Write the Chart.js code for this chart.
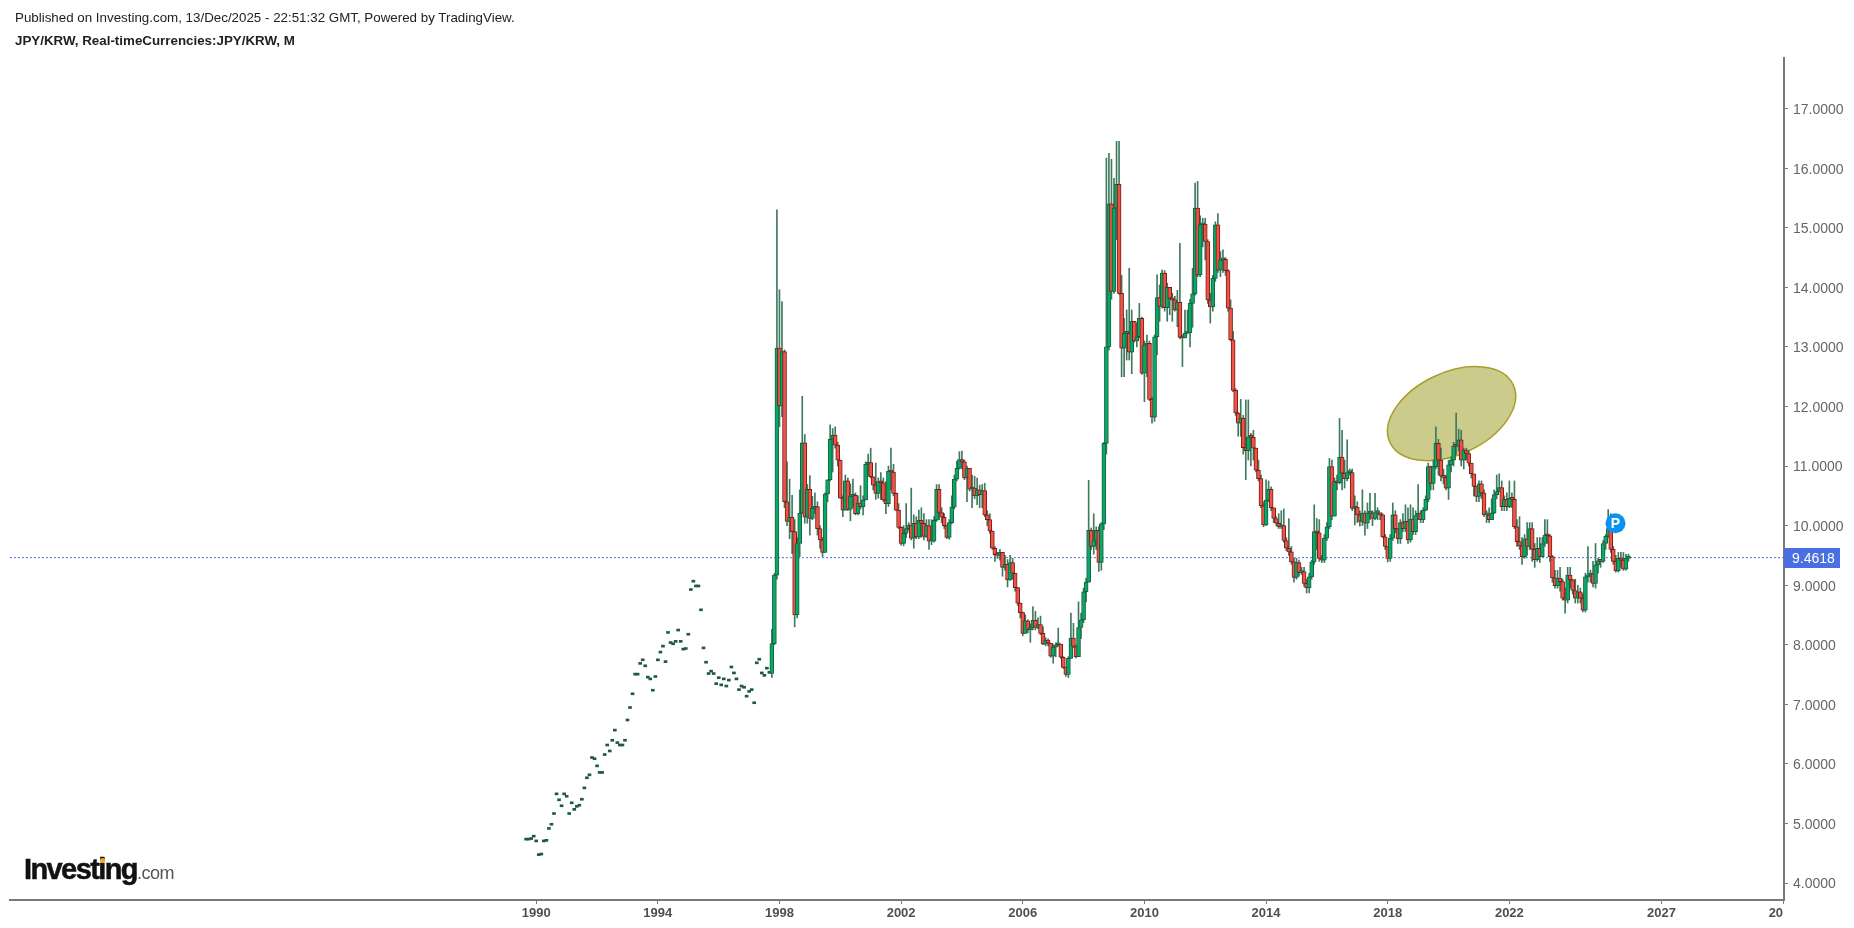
<!DOCTYPE html>
<html>
<head>
<meta charset="utf-8">
<title>JPY/KRW</title>
<script src="https://cdn.jsdelivr.net/npm/chart.js@4"></script>
<style>
  html, body { margin: 0; padding: 0; background: #fff; overflow: hidden; }
  #wrap { position: relative; width: 1854px; height: 928px; font-family: "Liberation Sans", Arial, sans-serif; }
  #c { position: absolute; left: 0; top: 0; }
  .head { position: absolute; left: 15px; color: #222; white-space: nowrap; }
  #line1 { top: 10px; font-size: 13.35px; }
  #line2 { top: 33px; left: 15px; font-size: 13.35px; font-weight: bold; }
  #logo { position: absolute; left: 24px; top: 853px; white-space: nowrap; color: #111; }
  #logo b { font-size: 29px; letter-spacing: -1.6px; -webkit-text-stroke: 0.5px #111; }
  #logo span { font-size: 18px; color: #555; letter-spacing: -0.5px; }
  #logo i { position: absolute; left: 76px; top: 5px; width: 5px; height: 5px; background: #f5a623; border-radius: 3px; }
</style>
</head>
<body>
<div id="wrap">
  <canvas id="c" width="1854" height="928"></canvas>
  <div class="head" id="line1">Published on Investing.com, 13/Dec/2025 - 22:51:32 GMT, Powered by TradingView.</div>
  <div class="head" id="line2">JPY/KRW, Real-timeCurrencies:JPY/KRW, M</div>
  <div id="logo"><b>Investing</b><span>.com</span><i></i></div>
</div>
<script>
// early months: only a flat quote per bar, Sep 1989 onward
const firstQuoteYear = 1989.67;
const earlyQuotes = [
  4.72,4.72,4.73,4.77,4.69,4.46,4.47,4.69,4.70,4.90,4.97,5.15,5.48,5.38,5.28,5.48,
  5.44,5.15,5.33,5.22,5.27,5.29,5.39,5.58,5.75,5.80,6.09,6.07,5.95,5.84,5.84,6.14,
  6.30,6.20,6.38,6.55,6.34,6.30,6.30,6.38,6.72,6.93,7.16,7.49,7.49,7.67,7.73,7.63,
  7.44,7.41,7.22,7.45,7.73,7.86,7.96,7.70,8.19,8.02,8.00,8.04,8.23,8.04,7.91,7.92,
  8.16,8.91,9.05,8.97,8.97,8.57,7.93,7.69,7.50,7.54,7.50,7.33,7.43,7.31,7.41,7.29,
  7.39,7.61,7.51,7.41,7.23,7.29,7.27,7.12,7.20,7.23,7.01,7.68,7.74,7.51,7.47,7.59,7.52
];

// monthly candles from autumn 1997; each one opens on the previous close
const firstCandleYear = 1997.75;
const firstOpen = 7.52;
const closes = [
  8.02,9.17,12.98,12.01,12.92,10.40,10.07,10.14,9.90,8.50,
  9.70,10.21,11.39,10.14,10.61,10.12,10.29,10.32,9.95,9.76,
  9.55,10.53,10.77,11.45,11.52,11.35,11.10,10.46,10.26,10.75,
  10.27,10.49,10.51,10.20,10.38,10.32,10.43,11.03,11.06,10.82,
  10.68,10.54,10.74,10.72,10.43,10.37,10.91,10.90,10.54,10.26,
  9.97,9.70,9.87,9.95,10.01,9.79,10.04,9.81,10.09,10.04,
  9.82,10.00,9.74,9.74,10.09,10.61,10.22,10.14,10.00,9.80,
  10.05,10.31,10.78,10.96,11.11,11.07,10.80,10.96,10.61,10.63,
  10.50,10.60,10.52,10.59,10.18,10.10,9.91,9.62,9.51,9.50,
  9.55,9.30,9.35,9.09,9.38,9.20,8.96,8.70,8.54,8.19,
  8.40,8.25,8.29,8.41,8.29,8.34,8.19,8.01,8.08,8.03,
  7.81,7.96,8.00,8.01,7.79,7.62,7.50,7.77,8.11,7.97,
  7.80,8.29,8.42,8.89,9.05,9.92,9.65,9.75,9.92,9.38,
  10.03,11.38,13.00,15.40,13.93,15.33,15.73,13.90,12.98,13.23,
  13.23,12.91,13.43,13.10,13.17,13.48,12.56,13.03,13.06,12.12,
  11.82,13.17,13.83,13.68,14.24,13.66,14.00,13.82,13.79,13.62,
  13.75,13.16,13.15,13.23,13.24,13.73,13.89,15.33,14.21,15.05,
  15.06,14.77,13.79,13.67,14.15,15.05,14.29,14.46,14.47,14.28,
  13.65,13.12,12.27,11.89,11.72,11.80,11.31,11.26,11.49,11.48,
  11.30,10.93,10.79,10.33,10.01,10.43,10.61,10.30,10.12,10.04,
  9.98,10.00,9.75,9.62,9.56,9.39,9.13,9.38,9.21,9.23,
  9.03,8.96,9.14,9.39,9.90,9.88,9.45,9.42,9.79,9.98,
  10.99,10.16,10.74,10.72,11.15,10.88,10.79,10.89,10.89,10.29,
  10.31,10.18,10.07,10.21,10.04,10.21,10.21,10.12,10.22,10.22,
  10.18,9.81,9.65,9.45,9.79,10.18,9.95,9.78,10.05,9.95,
  10.07,9.76,10.11,9.90,10.17,10.21,10.10,10.26,10.44,10.99,
  10.71,10.99,11.38,11.10,10.83,10.81,10.63,11.02,11.10,11.34,
  11.33,11.44,11.10,11.27,11.21,11.05,10.87,10.66,10.49,10.70,
  10.55,10.18,10.18,10.10,10.21,10.52,10.57,10.64,10.32,10.44,
  10.32,10.46,10.44,9.98,9.73,9.66,9.48,9.78,9.65,9.95,
  9.60,9.43,9.62,9.48,9.70,9.84,9.83,9.48,9.12,8.99,
  9.12,9.06,8.78,8.75,9.17,9.09,8.91,8.78,8.89,8.78,
  8.58,9.14,9.17,9.19,9.03,9.34,9.41,9.40,9.70,9.82,
  9.95,9.60,9.40,9.24,9.45,9.42,9.27,9.45,9.4618
];
const highs = [
  8.26,9.20,15.30,13.96,13.76,12.95,11.07,10.78,10.51,10.10,
  9.80,10.60,12.17,11.53,10.69,10.84,10.49,10.55,10.40,10.00,
  9.80,10.55,10.77,11.69,11.63,11.66,11.40,11.10,10.50,10.85,
  10.80,10.70,10.78,10.55,10.50,10.67,10.50,11.07,11.20,11.30,
  10.82,11.05,10.80,10.89,10.80,10.74,11.00,11.30,11.03,10.55,
  10.37,9.98,10.00,10.37,10.05,10.63,10.18,10.15,10.26,10.30,
  10.20,10.10,10.10,10.10,10.15,10.69,10.69,10.30,10.20,10.00,
  10.10,10.50,10.85,11.08,11.24,11.25,11.10,11.00,10.96,10.85,
  10.83,10.80,10.68,10.69,10.71,10.25,10.20,9.91,9.65,9.55,
  9.60,9.55,9.50,9.43,9.50,9.45,9.20,8.96,8.70,8.55,
  8.50,8.42,8.35,8.64,8.56,8.45,8.48,8.30,8.12,8.10,
  8.02,8.00,8.03,8.28,8.00,7.80,7.62,7.80,8.53,8.36,
  8.00,8.72,8.53,8.95,9.12,10.76,9.96,10.20,9.98,9.98,
  10.05,11.40,16.17,16.25,16.15,15.83,16.45,16.45,14.20,13.48,
  13.62,14.32,13.62,13.15,13.40,13.73,13.50,13.10,13.20,13.10,
  12.15,13.20,14.21,14.04,14.29,14.28,14.07,14.00,13.90,13.85,
  13.95,14.74,13.20,13.62,13.62,13.80,14.32,15.75,15.78,15.20,
  15.16,15.16,14.80,13.90,14.20,15.10,15.24,14.60,14.63,14.50,
  14.30,13.79,13.26,12.30,11.90,12.12,11.85,12.11,12.11,11.55,
  11.60,11.30,11.10,10.85,10.40,10.77,10.75,10.65,10.30,10.15,
  10.20,10.25,10.28,9.80,10.12,9.65,9.45,9.45,9.42,9.30,
  9.30,9.10,9.20,9.42,10.35,10.12,10.10,9.50,9.85,10.05,
  11.13,11.10,10.80,10.85,11.80,11.60,11.10,11.44,10.95,10.95,
  10.50,10.40,10.25,10.60,10.25,10.38,10.54,10.25,10.54,10.30,
  10.20,10.20,9.85,9.65,9.85,10.38,10.25,9.95,10.10,10.20,
  10.35,10.30,10.35,10.30,10.25,10.69,10.25,10.30,10.50,11.05,
  11.00,11.10,11.66,11.45,11.30,10.95,10.85,11.10,11.15,11.40,
  11.89,11.62,11.60,11.30,11.30,11.25,10.90,10.75,10.60,10.75,
  10.75,10.60,10.25,10.30,10.45,10.60,10.85,10.87,10.75,10.50,
  10.55,10.75,10.55,10.75,10.10,10.15,9.80,9.85,10.05,10.05,
  10.05,9.70,9.80,9.80,9.80,10.10,10.10,9.85,9.50,9.25,
  9.25,9.30,9.10,8.95,9.30,9.30,9.10,9.10,9.00,8.95,
  8.85,9.20,9.65,9.25,9.40,9.70,9.45,9.42,9.75,9.85,
  10.27,10.20,9.65,9.50,9.55,9.55,9.55,9.52,9.52
];
const lows = [
  7.45,8.00,9.10,11.66,11.83,10.30,10.00,9.78,9.53,8.30,
  8.45,9.48,10.20,10.04,10.04,9.84,10.10,10.20,9.84,9.62,
  9.48,9.55,10.40,10.75,10.90,11.30,11.00,10.46,10.15,10.26,
  10.25,10.08,10.30,10.18,10.18,10.28,10.18,10.43,10.83,10.80,
  10.60,10.44,10.46,10.44,10.40,10.20,10.32,10.60,10.50,10.25,
  9.95,9.67,9.66,9.80,9.92,9.76,9.62,9.78,9.78,9.80,
  9.76,9.80,9.60,9.68,9.72,10.07,10.10,10.05,9.95,9.78,
  9.77,10.03,10.28,10.75,10.95,10.95,10.77,10.40,10.58,10.30,
  10.45,10.35,10.30,10.30,10.15,10.00,9.87,9.60,9.40,9.45,
  9.42,9.15,9.25,8.97,9.08,9.10,8.90,8.66,8.45,8.15,
  8.19,8.20,8.04,8.25,8.25,8.27,8.17,8.00,7.98,7.98,
  7.79,7.69,7.80,7.98,7.77,7.60,7.47,7.45,7.77,7.95,
  7.78,7.80,8.10,8.37,8.72,9.05,9.60,9.52,9.60,9.23,
  9.25,9.93,11.20,12.95,13.80,13.90,14.80,13.88,12.50,12.50,
  12.78,12.78,12.55,13.08,13.00,13.15,12.54,12.08,12.50,12.10,
  11.72,11.75,12.87,13.43,13.65,13.60,13.43,13.54,13.43,13.60,
  13.34,13.14,12.67,13.15,13.22,13.00,13.33,13.87,14.18,14.18,
  14.68,14.46,13.73,13.40,13.60,14.10,14.25,14.18,14.25,14.20,
  13.60,13.10,12.25,11.85,11.50,11.50,11.20,10.77,11.10,11.00,
  11.10,10.90,10.75,10.30,9.98,10.00,10.40,10.25,10.05,10.00,
  9.95,9.95,9.72,9.58,9.50,9.35,9.05,9.10,9.15,9.18,
  8.98,8.87,8.87,9.10,9.35,9.60,9.40,9.38,9.38,9.75,
  9.95,10.10,10.16,10.60,10.70,10.60,10.63,10.75,10.85,10.25,
  10.01,10.05,9.99,10.00,9.84,9.95,10.10,10.00,10.10,10.10,
  10.10,9.80,9.60,9.39,9.40,9.75,9.88,9.70,9.70,9.90,
  9.90,9.70,9.72,9.85,9.85,10.10,10.05,10.05,10.25,10.40,
  10.60,10.60,10.95,10.85,10.75,10.70,10.60,10.44,10.90,11.00,
  11.20,11.25,11.00,10.95,11.10,11.00,10.80,10.50,10.40,10.40,
  10.45,10.15,10.05,10.05,10.10,10.20,10.45,10.60,10.25,10.25,
  10.25,10.30,10.30,9.95,9.65,9.60,9.35,9.45,9.50,9.60,
  9.40,9.30,9.40,9.38,9.50,9.65,9.70,9.40,9.05,8.95,
  8.95,8.90,8.75,8.53,8.70,8.95,8.85,8.70,8.70,8.70,
  8.55,8.55,9.05,9.05,8.97,8.95,9.20,9.30,9.38,9.60,
  9.80,9.55,9.35,9.22,9.22,9.30,9.25,9.25,9.40
];

const xTickYears = [1990, 1994, 1998, 2002, 2006, 2010, 2014, 2018, 2022, 2027, 2031];
const yTickValues = [4, 5, 6, 7, 8, 9, 10, 11, 12, 13, 14, 15, 16, 17];
const lastPrice = 9.4618;
const xRange = [1972.7, 2031.03];
const yRange = [3.715, 17.85];
const publishedMark = { x: 2025.49, y: 10.04 };
const highlightCentre = { x: 2020.1, y: 11.88 };

const UP_FILL = '#08a866', UP_EDGE = '#17603f';
const DOWN_FILL = '#ee5443', DOWN_EDGE = '#7a1c1c';
const WICK = '#3f7a5f';
const PRICE_BLUE = '#4a6fe3';

function monthYear(start, i) {
  return start + i / 12;
}

const opens = closes.map((c, i) => (i === 0 ? firstOpen : closes[i - 1]));

const earlyBars = earlyQuotes.map((v, i) => ({ x: monthYear(firstQuoteYear, i), y: [v, v] }));
const wickBars = closes.map((c, i) => ({ x: monthYear(firstCandleYear, i), y: [lows[i], highs[i]] }));
const bodyBars = closes.map((c, i) => ({ x: monthYear(firstCandleYear, i), y: [opens[i], c] }));

// ellipse, price tag, P letter and the clipped last year label
const overlays = {
  id: 'overlays',
  beforeDatasetsDraw(chart) {
    const { ctx, scales } = chart;
    ctx.save();
    ctx.beginPath();
    ctx.ellipse(scales.x.getPixelForValue(highlightCentre.x), scales.y.getPixelForValue(highlightCentre.y),
      68, 41, -25 * Math.PI / 180, 0, Math.PI * 2);
    ctx.fillStyle = '#cbcb8b';
    ctx.strokeStyle = '#a59f2a';
    ctx.lineWidth = 1.5;
    ctx.fill();
    ctx.stroke();
    ctx.restore();
  },
  afterDraw(chart) {
    const { ctx, scales, chartArea } = chart;
    ctx.save();
    // last axis label runs into the price scale
    ctx.fillStyle = '#fff';
    ctx.fillRect(chartArea.right - 1, chartArea.bottom + 6, 40, 22);

    const py = Math.round(scales.y.getPixelForValue(lastPrice));
    ctx.fillStyle = PRICE_BLUE;
    ctx.fillRect(chartArea.right, py - 10, 56, 20);
    ctx.fillStyle = '#fff';
    ctx.font = '14px "Liberation Sans"';
    ctx.textBaseline = 'middle';
    ctx.textAlign = 'left';
    ctx.fillText(lastPrice.toFixed(4), chartArea.right + 8, py + 1);

    ctx.font = 'bold 14px "Liberation Sans"';
    ctx.textAlign = 'center';
    ctx.fillText('P', scales.x.getPixelForValue(publishedMark.x), scales.y.getPixelForValue(publishedMark.y) + 0.5);
    ctx.restore();
  }
};

new Chart(document.getElementById('c'), {
  type: 'bar',
  plugins: [overlays],
  data: {
    datasets: [
      {
        type: 'line',
        data: [{ x: xRange[0], y: lastPrice }, { x: xRange[1], y: lastPrice }],
        borderColor: PRICE_BLUE,
        borderWidth: 1,
        borderDash: [2, 2],
        pointRadius: 0,
        order: 4
      },
      {
        data: earlyBars,
        backgroundColor: '#1f5a40',
        barThickness: 3,
        minBarLength: 2,
        grouped: false,
        order: 3
      },
      {
        data: wickBars,
        backgroundColor: WICK,
        barThickness: 1,
        grouped: false,
        order: 3
      },
      {
        data: bodyBars,
        backgroundColor: closes.map((c, i) => (c >= opens[i] ? UP_FILL : DOWN_FILL)),
        borderColor: closes.map((c, i) => (c >= opens[i] ? UP_EDGE : DOWN_EDGE)),
        borderWidth: 1,
        borderSkipped: false,
        barThickness: 4,
        minBarLength: 2,
        grouped: false,
        order: 2
      },
      {
        type: 'scatter',
        data: [publishedMark],
        backgroundColor: '#0a92f2',
        borderWidth: 0,
        pointRadius: 10,
        order: 1
      }
    ]
  },
  options: {
    responsive: false,
    animation: false,
    events: [],
    layout: { padding: { top: 58, left: 8, right: 0, bottom: 0 } },
    plugins: {
      legend: { display: false },
      tooltip: { enabled: false }
    },
    scales: {
      x: {
        type: 'linear',
        min: xRange[0],
        max: xRange[1],
        offset: false,
        afterBuildTicks: (axis) => { axis.ticks = xTickYears.map(v => ({ value: v })); },
        afterFit: (axis) => { axis.height = 28; },
        grid: { offset: false, drawOnChartArea: false, tickLength: 4, tickColor: '#7a7a7a' },
        border: { color: '#7a7a7a', width: 2 },
        ticks: {
          autoSkip: false,
          maxRotation: 0,
          padding: 2,
          color: '#4f4f4f',
          font: { family: '"Liberation Sans"', size: 13, weight: 'bold' },
          callback: (v) => String(v)
        }
      },
      y: {
        position: 'right',
        min: yRange[0],
        max: yRange[1],
        afterBuildTicks: (axis) => { axis.ticks = yTickValues.map(v => ({ value: v })); },
        afterFit: (axis) => { axis.width = 70; },
        grid: { drawOnChartArea: false, tickLength: 4, tickColor: '#7a7a7a' },
        border: { color: '#7a7a7a', width: 2 },
        ticks: {
          padding: 5,
          labelOffset: 1.5,
          color: '#666',
          font: { family: '"Liberation Sans"', size: 14 },
          callback: (v) => v.toFixed(4)
        }
      }
    }
  }
});
</script>
</body>
</html>
